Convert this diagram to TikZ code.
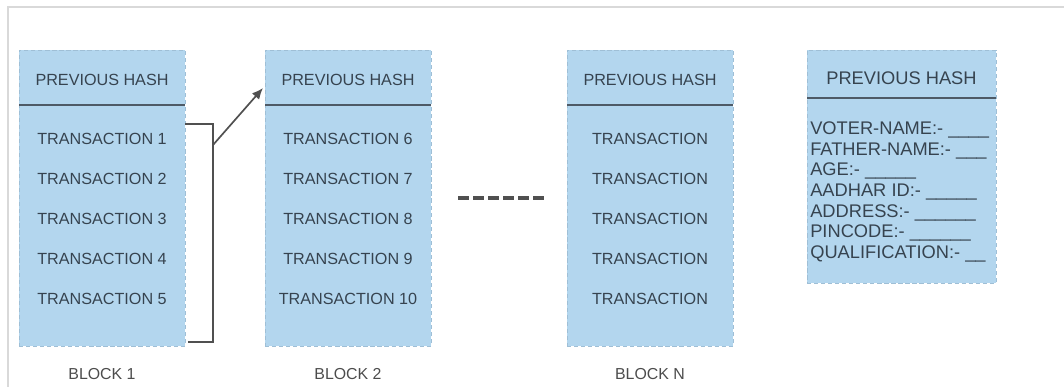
\documentclass[tikz,border=0pt]{standalone}
\usepackage{fontspec}
\setmainfont{Liberation Sans}
\usetikzlibrary{arrows.meta, positioning, calc}
\definecolor{chainfill}{HTML}{B3D6EE}
\definecolor{chainedge}{HTML}{9FBFD6}
\definecolor{slate}{HTML}{36434F}
\definecolor{rulegray}{HTML}{4E5A66}
\definecolor{linkgray}{HTML}{505050}
\definecolor{framegray}{HTML}{D9D9D9}

\begin{document}
\begin{tikzpicture}[
  block/.style={rectangle, draw=chainedge, densely dashed, line width=0.6pt, fill=chainfill, minimum width=4.15cm, minimum height=7.4cm, inner sep=0pt, outer sep=0pt},
  voter/.style={minimum width=4.725cm, minimum height=5.825cm},
  txt/.style={text=slate, font=\fontsize{11.5}{13}\selectfont, inner sep=0pt, text height=0.3cm, text depth=0cm},
  bighash/.style={txt, font=\fontsize{13}{14}\selectfont},
  fields/.style={text=slate, font=\fontsize{13}{14.7}\selectfont, inner sep=0pt, align=left},
  blockname/.style={text=black!70, font=\fontsize{11.3}{13}\selectfont, inner sep=0pt},
  hashrule/.style={rulegray, line width=1.4pt},
  link/.style={linkgray, line width=1.2pt},
  arrow/.style={link, -{Latex[length=2.8mm, width=2.4mm]}},
  gap/.style={linkgray, line width=2.3pt, dash pattern=on 0.28cm off 0.095cm}
]
  \useasboundingbox (0,0) rectangle (26.6,9.675);
  \draw[framegray, line width=0.8pt] (0.2,0) -- (0.2,9.5) -- (26.6,9.5);

  % blocks
  \node[block] (b1) at (2.55,4.725) {};
  \node[block, right=2cm of b1] (b2) {};
  \node[block, right=3.4cm of b2] (bn) {};
  \node[block, voter, right=1.85cm of bn.north east, anchor=north west] (b4) {};

  % headers
  \node[txt] (h1) at ($(b1.north)+(0,-0.75)$) {PREVIOUS HASH};
  \node[txt] (h2) at ($(b2.north)+(0,-0.75)$) {PREVIOUS HASH};
  \node[txt] (hn) at ($(bn.north)+(0,-0.75)$) {PREVIOUS HASH};
  \node[bighash] (h4) at ($(b4.north)+(0,-0.725)$) {PREVIOUS HASH};
  \draw[hashrule] ($(b1.north west)+(0,-1.375)$) -- ($(b1.north east)+(0,-1.375)$);
  \draw[hashrule] ($(b2.north west)+(0,-1.375)$) -- ($(b2.north east)+(0,-1.375)$);
  \draw[hashrule] ($(bn.north west)+(0,-1.375)$) -- ($(bn.north east)+(0,-1.375)$);
  \draw[hashrule] ($(b4.north west)+(0,-1.2)$) -- ($(b4.north east)+(0,-1.2)$);

  % block 1
  \node[txt] (t1) at ($(b1.north)+(0,-2.225)$) {TRANSACTION 1};
  \node[txt, below=0.683cm of t1] (t2) {TRANSACTION 2};
  \node[txt, below=0.683cm of t2] (t3) {TRANSACTION 3};
  \node[txt, below=0.683cm of t3] (t4) {TRANSACTION 4};
  \node[txt, below=0.683cm of t4] (t5) {TRANSACTION 5};

  % block 2
  \node[txt] (t6) at ($(b2.north)+(0,-2.225)$) {TRANSACTION 6};
  \node[txt, below=0.683cm of t6] (t7) {TRANSACTION 7};
  \node[txt, below=0.683cm of t7] (t8) {TRANSACTION 8};
  \node[txt, below=0.683cm of t8] (t9) {TRANSACTION 9};
  \node[txt, below=0.683cm of t9] (t10) {TRANSACTION 10};

  % block n
  \node[txt] (tn1) at ($(bn.north)+(0,-2.225)$) {TRANSACTION};
  \node[txt, below=0.683cm of tn1] (tn2) {TRANSACTION};
  \node[txt, below=0.683cm of tn2] (tn3) {TRANSACTION};
  \node[txt, below=0.683cm of tn3] (tn4) {TRANSACTION};
  \node[txt, below=0.683cm of tn4] (tn5) {TRANSACTION};

  % voter record
  \node[fields, anchor=north west] (rec) at ($(b4.north west)+(0.075,-1.79)$)
    {VOTER-NAME:- \_\_\_\_\\
     FATHER-NAME:- \_\_\_\\
     AGE:- \_\_\_\_\_\\
     AADHAR ID:- \_\_\_\_\_\\
     ADDRESS:- \_\_\_\_\_\_\\
     PINCODE:- \_\_\_\_\_\_\\
     QUALIFICATION:- \_\_};

  % names
  \node[blockname] (n1) at ($(b1.south)+(0,-0.7)$) {BLOCK 1};
  \node[blockname] (n2) at ($(b2.south)+(0,-0.7)$) {BLOCK 2};
  \node[blockname] (nn) at ($(bn.south)+(0,-0.7)$) {BLOCK N};

  % links
  \coordinate (brtop) at ($(b1.north east)+(0.7,-1.85)$);
  \coordinate (brbot) at ($(b1.south east)+(0.7,0.1)$);
  \coordinate (brend) at ($(b1.south east)+(0.075,0.1)$);
  \coordinate (arrfrom) at ($(b1.north east)+(0.7,-2.375)$);
  \draw[link] (b1.east |- brtop) -- (brtop) -- (brbot) -- (brend);
  \draw[arrow] (arrfrom) -- ($(b2.north west)+(-0.05,-0.95)$);
  \draw[gap] ($(b2.east)+(0.675,0)$) -- ($(bn.west)+(-0.55,0)$);
\end{tikzpicture}
\end{document}
